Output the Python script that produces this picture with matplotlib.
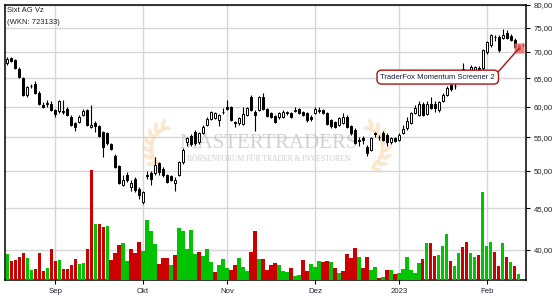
import numpy as np
import pandas as pd
import matplotlib
matplotlib.use('Agg')
import matplotlib.pyplot as plt
import matplotlib.transforms as mtransforms
from matplotlib.patches import Ellipse
from matplotlib.ticker import FixedLocator, FuncFormatter, NullLocator

plt.rcParams['font.family'] = ['Liberation Sans', 'DejaVu Sans']

# Xetra trading days, 16.08.2022 - 14.02.2023 (closed 26.12.2022)
days = pd.bdate_range('2022-08-16', '2023-02-14')
days = days[days != pd.Timestamp('2022-12-26')]

open_ = [67.9, 68.9, 68.4, 66.8, 65.0, 62.0, 63.6, 64.0, 62.4, 60.2,
         60.5, 60.5, 59.4, 59.2, 59.2, 59.6, 58.3, 57.3, 57.5, 58.6,
         59.4, 56.7, 57.2, 56.8, 55.8, 55.6, 53.9, 52.2, 50.7, 48.1,
         49.5, 47.8, 48.9, 47.5, 45.8, 49.5, 49.7, 49.7, 51.1, 50.3,
         49.4, 49.3, 48.4, 49.5, 51.3, 54.2, 55.2, 55.9, 54.2, 55.7,
         57.0, 58.0, 58.1, 57.8, 59.0, 60.0, 59.9, 57.4, 57.3, 57.1,
         58.6, 61.6, 59.1, 59.4, 61.6, 59.6, 58.9, 58.4, 58.3, 58.3,
         58.9, 58.9, 59.3, 59.6, 59.1, 58.9, 58.3, 58.9, 59.3, 59.4,
         58.9, 57.8, 57.4, 57.0, 57.3, 58.3, 56.8, 56.2, 54.6, 54.9,
         53.5, 53.1, 55.6, 55.0, 55.6, 55.4, 54.3, 54.9, 54.6, 55.7,
         56.4, 57.3, 58.9, 58.6, 60.5, 58.8, 60.4, 60.5, 59.4, 60.9,
         62.0, 63.8, 63.5, 64.4, 65.4, 66.2, 66.3, 66.1, 66.9, 66.9,
         70.0, 71.4, 73.1, 73.1, 72.9, 73.8, 73.3, 72.5, 71.2, 71.3]
high = [69.0, 69.1, 68.6, 67.0, 65.2, 63.6, 64.0, 64.4, 62.6, 60.7,
        61.2, 60.9, 59.6, 61.1, 61.2, 59.9, 58.5, 57.5, 58.5, 59.6,
        59.6, 60.2, 57.6, 57.0, 56.0, 55.9, 54.1, 52.4, 50.9, 49.4,
        49.8, 48.7, 49.2, 47.8, 47.3, 50.0, 50.0, 52.0, 51.3, 50.6,
        49.6, 49.5, 49.2, 51.5, 53.3, 55.1, 55.5, 56.2, 55.9, 56.9,
        58.2, 59.3, 59.1, 58.7, 59.7, 61.1, 60.1, 57.6, 58.3, 60.0,
        59.9, 62.0, 59.4, 61.8, 62.4, 59.8, 59.1, 58.6, 59.1, 59.4,
        59.3, 59.1, 59.9, 59.8, 59.3, 59.1, 58.5, 59.9, 59.9, 59.6,
        59.1, 58.0, 57.6, 58.3, 58.9, 58.5, 57.0, 56.4, 55.1, 55.2,
        53.8, 55.1, 55.9, 55.4, 56.0, 55.6, 55.1, 55.1, 55.6, 56.9,
        58.3, 59.1, 60.3, 61.0, 60.8, 60.9, 61.6, 61.0, 60.9, 62.3,
        63.6, 64.0, 64.3, 66.0, 67.8, 66.6, 67.4, 67.3, 67.2, 70.6,
        72.2, 73.7, 73.5, 73.4, 74.6, 74.5, 73.6, 72.8, 71.6, 71.8]
low = [67.5, 68.1, 66.7, 65.0, 61.8, 61.7, 63.2, 62.1, 60.2, 59.7,
       60.0, 59.2, 58.3, 58.9, 58.8, 58.4, 56.8, 56.0, 57.3, 58.4,
       56.8, 56.5, 55.9, 55.0, 52.0, 53.8, 53.0, 50.4, 48.2, 47.9,
       48.5, 47.2, 47.1, 46.2, 45.6, 48.9, 48.1, 49.5, 49.5, 49.2,
       48.3, 48.6, 47.3, 49.3, 51.0, 53.7, 53.6, 53.8, 54.0, 55.5,
       56.8, 57.7, 57.9, 56.8, 58.8, 59.4, 57.6, 56.6, 57.0, 56.9,
       58.4, 59.2, 56.0, 59.2, 59.4, 58.2, 58.1, 57.2, 58.0, 58.1,
       58.6, 58.1, 59.0, 58.7, 58.4, 57.5, 57.6, 58.7, 58.9, 58.7,
       56.9, 56.5, 56.4, 56.8, 57.1, 56.5, 55.4, 53.9, 53.6, 54.0,
       52.2, 52.9, 55.0, 54.6, 54.4, 53.7, 54.0, 54.2, 54.4, 55.5,
       56.2, 57.1, 58.7, 58.4, 58.4, 58.6, 59.5, 59.1, 59.0, 60.7,
       61.8, 62.6, 63.0, 64.2, 65.2, 65.5, 66.0, 65.6, 65.8, 66.6,
       69.6, 71.0, 72.3, 70.0, 72.6, 72.6, 72.1, 70.6, 70.2, 70.9]
close = [68.7, 68.3, 66.9, 65.3, 62.0, 63.4, 63.6, 62.3, 60.4, 60.0,
         60.6, 59.4, 58.7, 61.0, 59.0, 58.6, 57.0, 56.7, 58.3, 59.3,
         57.0, 57.0, 56.8, 55.2, 53.5, 54.1, 53.2, 50.6, 48.4, 48.8,
         48.8, 48.3, 47.4, 46.7, 47.1, 49.3, 48.9, 50.8, 49.8, 49.4,
         48.5, 48.8, 48.8, 51.3, 53.1, 54.9, 53.9, 54.1, 55.7, 56.7,
         58.0, 59.1, 58.9, 58.5, 59.1, 59.6, 57.8, 57.3, 58.1, 58.8,
         59.7, 59.4, 58.6, 61.6, 59.6, 58.4, 58.3, 57.5, 58.9, 59.1,
         59.0, 58.3, 59.4, 58.9, 58.6, 57.8, 58.0, 59.6, 59.4, 58.9,
         57.1, 56.8, 56.7, 58.1, 58.3, 56.7, 55.6, 54.1, 54.5, 54.6,
         52.6, 54.9, 55.5, 55.1, 54.6, 54.3, 54.9, 54.4, 55.4, 56.3,
         57.6, 58.9, 59.7, 60.5, 58.6, 60.5, 59.8, 59.8, 60.7, 62.0,
         63.3, 63.1, 63.6, 65.4, 66.8, 66.1, 67.1, 67.1, 66.2, 70.4,
         72.0, 73.5, 73.0, 70.4, 73.4, 72.9, 72.5, 71.0, 70.6, 71.4]

# volume (relative); g = up day, r = down day
volume = [26, 19, 20, 23, 27, 22, 10, 11, 27, 9,
          12, 31, 19, 20, 11, 11, 15, 21, 16, 17,
          31, 110, 56, 56, 53, 54, 20, 27, 35, 37,
          19, 31, 27, 38, 29, 60, 49, 36, 16, 22,
          22, 15, 25, 52, 49, 31, 50, 26, 28, 24,
          31, 18, 8, 15, 21, 12, 10, 15, 22, 13,
          9, 28, 49, 21, 21, 10, 15, 17, 15, 9,
          8, 12, 4, 5, 20, 9, 16, 13, 19, 18,
          19, 18, 12, 7, 9, 26, 22, 32, 23, 12,
          23, 10, 13, 2, 3, 10, 10, 6, 7, 11,
          23, 10, 7, 17, 21, 37, 37, 24, 25, 34,
          46, 19, 14, 27, 33, 38, 27, 23, 25, 88,
          34, 38, 28, 14, 37, 23, 18, 14, 6, 0]
vol_dir = ('grrrrggrrr' 'grrgrrrrgg' 'rrgrrgrrrg' 'grrrggggrr' 'rgrgggggrg'
           'ggrgggrrgg' 'grrgrrrrgg' 'grggrrgggr' 'rgrgrrrrgr' 'rggrgrgrgg'
           'ggggrgrrgg' 'grggrrggrg' 'ggrrgrgrgg')

signal_day = 128
signal_text = 'TraderFox Momentum Screener 2'

month_names = {9: 'Sep', 10: 'Okt', 11: 'Nov', 12: 'Dez', 2: 'Feb'}

idx = np.arange(len(days))
o = np.array(open_)
c = np.array(close)
up = c >= o

fig = plt.figure(figsize=(5.55, 3.0), dpi=100)
rect = [5.3 / 555, 1 - 280 / 300, (525.7 - 5.3) / 555, (280 - 4.7) / 300]
ax = fig.add_axes(rect)
axv = fig.add_axes(rect, sharex=ax)
axv.patch.set_visible(False)

# price axis
ax.set_yscale('log')
ax.set_ylim(36.75, 80)
ax.set_xlim(-0.45, 129.7)
ax.yaxis.tick_right()
ax.yaxis.set_major_locator(FixedLocator([40, 45, 50, 55, 60, 65, 70, 75, 80]))
ax.yaxis.set_minor_locator(NullLocator())
ax.yaxis.set_major_formatter(FuncFormatter(lambda v, p: f'{v:.2f}'.replace('.', ',')))

starts = [i for i in range(1, len(days)) if days[i].month != days[i - 1].month]
labels = [month_names.get(days[i].month, str(days[i].year)) for i in starts]
ax.set_xticks(starts)
ax.set_xticklabels(labels)

ax.set_axisbelow(True)
ax.grid(True, color='#d6d6d6', lw=1.0)
ax.tick_params(axis='both', length=3, width=0.8, colors='black',
               labelsize=5.6, labelcolor='#222233', pad=3)
for s in ax.spines.values():
    s.set_color('black')
    s.set_linewidth(1.1)

# watermark
ax.text(0.5065, 0.495, 'MASTERTRADERS', transform=ax.transAxes, ha='center', va='center',
        family='Liberation Serif', fontsize=15, color='#c4c4c4', alpha=0.75, zorder=1)
ax.text(0.5065, 0.44, 'BÖRSENFORUM FÜR TRADER & INVESTOREN', transform=ax.transAxes,
        ha='center', va='center', family='Liberation Serif', fontsize=5.5,
        color='#c4c4c4', alpha=0.85, zorder=1)
ident = mtransforms.IdentityTransform()
for cx, side in [(172, -1), (362, 1)]:
    cy = 300 - 148
    for a in np.arange(118, 246, 18):
        t = np.radians(a if side < 0 else 180 - a)
        px, py = cx + 23 * np.cos(t), cy + 23 * np.sin(t)
        tang = a - 90
        for tilt in (38, -32):
            ang = tang + tilt
            if side > 0:
                ang = 180 - ang
            r = np.radians(ang)
            ex, ey = px + 5 * np.cos(r), py + 5 * np.sin(r)
            ax.add_artist(Ellipse((ex, ey), 10, 4, angle=ang, transform=ident,
                                  facecolor='#f6d3a2', edgecolor='none', alpha=0.5, zorder=1))

# candles
ax.vlines(idx, low, high, color='black', lw=0.8, zorder=3)
ax.bar(idx, np.maximum(np.abs(c - o), 0.05), bottom=np.minimum(o, c), width=0.62,
       color=np.where(up, 'white', 'black'), edgecolor='black', lw=0.7, zorder=4)

# signal marker and label
ax.plot(signal_day, close[signal_day] + 0.1, marker='s', ms=7, mfc='#f06868', mec='none',
        alpha=0.85, zorder=5)
ax.annotate(signal_text, xy=(signal_day, close[signal_day] + 0.1), xytext=(107.7, 65.2),
            ha='center', va='center', fontsize=5.5, color='#1a1a3a', zorder=6,
            bbox=dict(boxstyle='round,pad=0.45,rounding_size=0.6', fc='white',
                      ec='#a31515', lw=1.0),
            arrowprops=dict(arrowstyle='-', color='#a31515', lw=1.0, shrinkA=0, shrinkB=0,
                            relpos=(1.0, 0.75)))

# volume
vol_colors = ['#00c400' if d == 'g' else '#cc0000' for d in vol_dir]
axv.bar(idx, volume, width=0.78, color=vol_colors, zorder=2)
axv.set_ylim(0, max(volume) * 2.5)
axv.tick_params(left=False, labelleft=False, bottom=False, labelbottom=False)
for s in axv.spines.values():
    s.set_visible(False)

fig.text(7 / 555, 1 - 11 / 300, 'Sixt AG Vz', fontsize=5.5, color='#222222', va='center')
fig.text(7 / 555, 1 - 22 / 300, '(WKN: 723133)', fontsize=5.5, color='#222222', va='center')

fig.savefig('out.png', dpi=100)
